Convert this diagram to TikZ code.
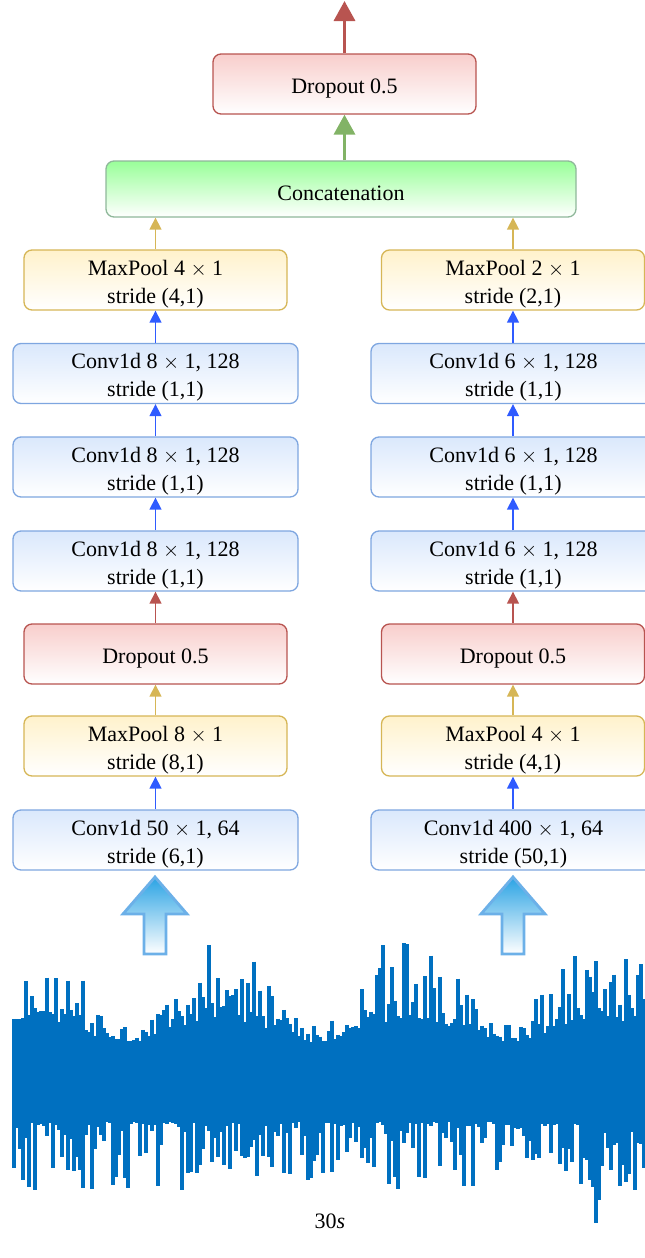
\documentclass[tikz,border=0pt]{standalone}
\usepackage{fontspec}
\setmainfont{Liberation Serif}
\usetikzlibrary{arrows.meta}
\definecolor{bluedraw}{HTML}{7EA6E0}
\definecolor{bluefill}{HTML}{DAE8FC}
\definecolor{yeldraw}{HTML}{D6B656}
\definecolor{yelfill}{HTML}{FFF2CC}
\definecolor{reddraw}{HTML}{B85450}
\definecolor{redfill}{HTML}{F8CECC}
\definecolor{grndraw}{HTML}{8FB89A}
\definecolor{grnfill}{HTML}{99FF99}
\definecolor{grnarrow}{HTML}{82B366}
\definecolor{bluearrow}{HTML}{2F5BFF}
\definecolor{bigfill}{HTML}{2AA3E4}
\definecolor{bigdraw}{HTML}{6CB0E8}
\definecolor{sigcol}{HTML}{0070C0}
\newcommand\myup{\rule{0pt}{23pt}}
\tikzset{
  box/.style={rounded corners=8pt, line width=1.3pt, align=center, inner sep=0pt,
    font=\fontsize{22}{28}\selectfont, bottom color=white},
  convbox/.style={box, draw=bluedraw, top color=bluefill, minimum width=285pt, minimum height=60pt},
  poolbox/.style={box, draw=yeldraw, top color=yelfill, minimum width=263pt, minimum height=60pt},
  dropbox/.style={box, draw=reddraw, top color=redfill, minimum width=263pt, minimum height=60pt},
  catbox/.style={box, draw=grndraw, top color=grnfill, minimum width=470pt, minimum height=56pt},
  thin/.style={line width=1.4pt, -{Triangle[width=12pt,length=12pt]}},
  thick/.style={line width=3.5pt, -{Triangle[width=21pt,length=20pt]}},
  bigarrow/.style={line width=2.8pt, draw=bigdraw, top color=bigfill, bottom color=white, line join=miter},
  sig/.style={draw=sigcol, line width=3.2pt}
}
\begin{document}
\begin{tikzpicture}[x=1pt,y=-1pt]
\useasboundingbox (0,0) rectangle (645,1258);
\clip (0,0) rectangle (645,1258);
% top
\node[dropbox] (topdrop) at (344.5,84) {\myup Dropout 0.5};
\node[catbox] (concat) at (341,189) {\myup Concatenation};
\coordinate (out) at (344.5,1);
% left column
\node[poolbox] (lmp2) at (155.5,280) {\myup MaxPool 4 $\times$ 1\\stride (4,1)};
\node[convbox] (lc4) at (155.5,373.5) {\myup Conv1d 8 $\times$ 1, 128\\stride (1,1)};
\node[convbox] (lc3) at (155.5,467) {\myup Conv1d 8 $\times$ 1, 128\\stride (1,1)};
\node[convbox] (lc2) at (155.5,561) {\myup Conv1d 8 $\times$ 1, 128\\stride (1,1)};
\node[dropbox] (ldrop) at (155.5,654) {\myup Dropout 0.5};
\node[poolbox] (lmp1) at (155.5,746) {\myup MaxPool 8 $\times$ 1\\stride (8,1)};
\node[convbox] (lc1) at (155.5,840) {\myup Conv1d 50 $\times$ 1, 64\\stride (6,1)};
% right column
\node[poolbox] (rmp2) at (513,280) {\myup MaxPool 2 $\times$ 1\\stride (2,1)};
\node[convbox] (rc4) at (513.5,373.5) {\myup Conv1d 6 $\times$ 1, 128\\stride (1,1)};
\node[convbox] (rc3) at (513.5,467) {\myup Conv1d 6 $\times$ 1, 128\\stride (1,1)};
\node[convbox] (rc2) at (513.5,561) {\myup Conv1d 6 $\times$ 1, 128\\stride (1,1)};
\node[dropbox] (rdrop) at (513,654) {\myup Dropout 0.5};
\node[poolbox] (rmp1) at (513,746) {\myup MaxPool 4 $\times$ 1\\stride (4,1)};
\node[convbox] (rc1) at (513.5,840) {\myup Conv1d 400 $\times$ 1, 64\\stride (50,1)};
% thick arrows
\draw[thick, reddraw] (topdrop.north) -- (out);
\draw[thick, grnarrow] (concat.north -| topdrop.south) -- (topdrop.south);
% thin arrows
\draw[thin, yeldraw] (lmp2.north) -- (lmp2.north |- concat.south);
\draw[thin, yeldraw] (rmp2.north) -- (rmp2.north |- concat.south);
\draw[thin, bluearrow] (lc4) -- (lmp2);
\draw[thin, bluearrow] (lc3) -- (lc4);
\draw[thin, bluearrow] (lc2) -- (lc3);
\draw[thin, reddraw] (ldrop) -- (lc2);
\draw[thin, yeldraw] (lmp1) -- (ldrop);
\draw[thin, bluearrow] (lc1) -- (lmp1);
\draw[thin, bluearrow] (rc4.north -| rmp2.south) -- (rmp2.south);
\draw[thin, bluearrow] (rc3.north -| rmp2.south) -- (rc4.south -| rmp2.south);
\draw[thin, bluearrow] (rc2.north -| rmp2.south) -- (rc3.south -| rmp2.south);
\draw[thin, reddraw] (rdrop) -- (rdrop.north |- rc2.south);
\draw[thin, yeldraw] (rmp1) -- (rdrop);
\draw[thin, bluearrow] (rc1.north -| rmp1.south) -- (rmp1.south);
% big input arrows
\foreach \cx in {155,513}{
  \path[bigarrow] (\cx,877) -- (\cx+32,914) -- (\cx+11,914) -- (\cx+11,954)
     -- (\cx-11,954) -- (\cx-11,914) -- (\cx-32,914) -- cycle;
}
% signal
\pgfmathsetseed{2024}
\foreach \i in {14,17,...,647}{
  \pgfmathsetmacro\tp{1048 - (30 + 95*rnd^2)*(0.6+0.4*sin(\i*1.9+30))}
  \pgfmathsetmacro\bt{1122 + 68*rnd^2 + (\i>560 ? 75*rnd^3 : 0)}
  \draw[sig] (\i,\tp) -- (\i,\bt);
}
\node[font=\fontsize{22}{28}\selectfont] (lbl) at (330,1221) {30\textit{s}};
\end{tikzpicture}
\end{document}
